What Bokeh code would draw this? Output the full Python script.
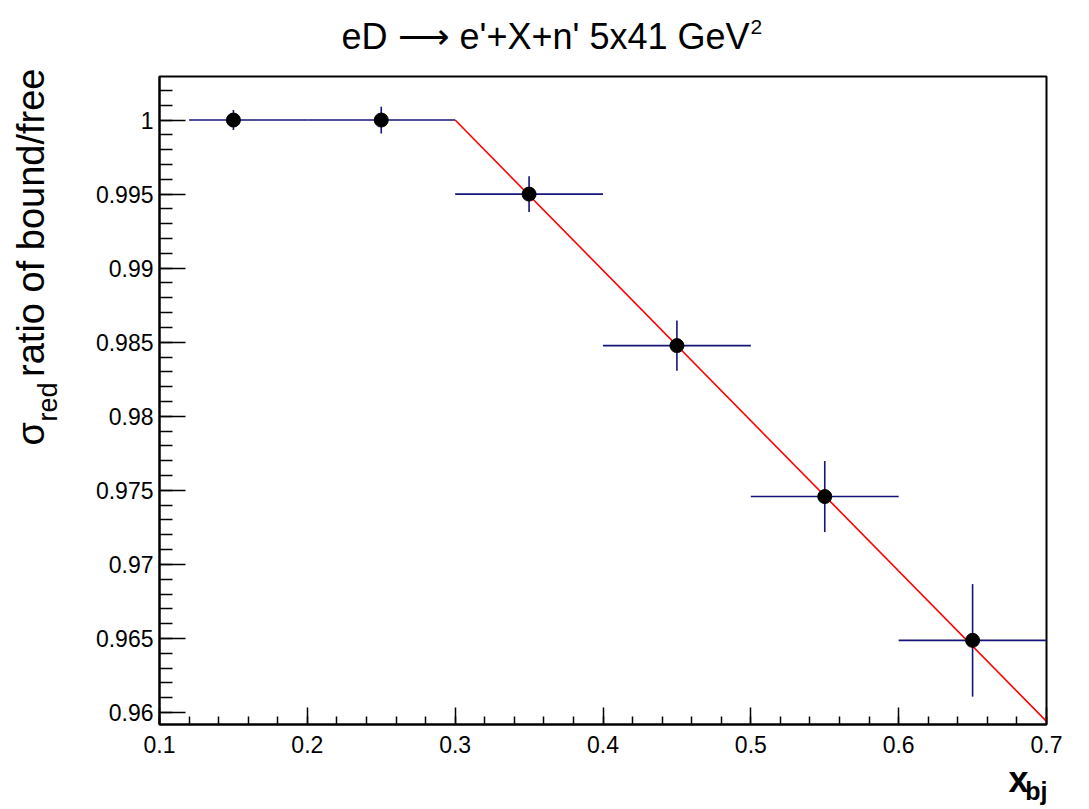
import numpy as np
from bokeh.plotting import figure
from bokeh.models import FixedTicker, Label, ColumnDataSource
from bokeh.embed import file_html
from bokeh.resources import INLINE

# ---- data ----
x_val = [0.15, 0.25, 0.35, 0.45, 0.55, 0.65]
x_low = [0.12, 0.20, 0.30, 0.40, 0.50, 0.60]
x_high = [0.20, 0.30, 0.40, 0.50, 0.60, 0.70]
y_val = [1.0000, 1.0000, 0.9950, 0.98477, 0.97458, 0.96487]
y_err = [0.00067, 0.0009, 0.0012, 0.0017, 0.0024, 0.0038]

fit_x = [0.30, 0.70]
fit_y = [1.0000, 0.9594]

x_ticks = [0.1, 0.2, 0.3, 0.4, 0.5, 0.6, 0.7]
x_tick_labels = ["0.1", "0.2", "0.3", "0.4", "0.5", "0.6", "0.7"]
y_ticks = [0.96, 0.965, 0.97, 0.975, 0.98, 0.985, 0.99, 0.995, 1.0]
y_tick_labels = ["0.96", "0.965", "0.97", "0.975", "0.98", "0.985", "0.99", "0.995", "1"]

XMIN, XMAX = 0.1, 0.7
YMIN, YMAX = 0.95919, 1.00294

# canvas and plot-box placement (pixels)
W, H = 1089, 809
L, R, T, B = 159, 43, 76, 85
FW, FH = W - L - R, H - T - B
KX = FW / (XMAX - XMIN)
KY = FH / (YMAX - YMIN)

FONT = "Liberation Sans"

p = figure(width=W, height=H,
           x_range=(XMIN - L / KX, XMAX + R / KX),
           y_range=(YMIN - B / KY, YMAX + T / KY),
           output_backend="svg", toolbar_location=None, title=None,
           min_border=0)
p.background_fill_color = "white"
p.border_fill_color = "white"
p.outline_line_color = None
p.xgrid.visible = False
p.ygrid.visible = False

# axes placed at the plot-box edges
p.xaxis.fixed_location = YMIN
p.yaxis.fixed_location = XMIN
p.xaxis.bounds = (XMIN, XMAX)
p.yaxis.bounds = (YMIN, YMAX)
p.xaxis.ticker = FixedTicker(ticks=x_ticks,
                             minor_ticks=[round(v, 3) for v in np.arange(0.1, 0.7001, 0.02)])
p.yaxis.ticker = FixedTicker(ticks=y_ticks,
                             minor_ticks=[round(v, 4) for v in np.arange(0.960, 1.0021, 0.001)])
p.xaxis.major_label_overrides = dict(zip(x_ticks, x_tick_labels))
p.yaxis.major_label_overrides = dict(zip(y_ticks, y_tick_labels))
for ax in (p.xaxis, p.yaxis):
    ax.axis_line_width = 2
    ax.axis_line_color = "black"
    ax.major_tick_out = 0
    ax.minor_tick_out = 0
    ax.major_tick_line_width = 1.5
    ax.minor_tick_line_width = 1.5
    ax.major_tick_line_color = "black"
    ax.minor_tick_line_color = "black"
    ax.major_label_text_font = FONT
    ax.major_label_text_font_size = "23px"
    ax.major_label_text_color = "black"
p.xaxis.major_tick_in = 17
p.xaxis.minor_tick_in = 8
p.yaxis.major_tick_in = 26
p.yaxis.minor_tick_in = 13
p.xaxis.major_label_standoff = 11
p.yaxis.major_label_standoff = 6

# plot box outline
p.quad(left=[XMIN], right=[XMAX], bottom=[YMIN], top=[YMAX],
       fill_color=None, line_color="black", line_width=2)

# data
src = ColumnDataSource(dict(x=x_val, xl=x_low, xh=x_high, y=y_val,
                            yl=[a - b for a, b in zip(y_val, y_err)],
                            yh=[a + b for a, b in zip(y_val, y_err)]))
EB = "#14147a"
p.segment(x0="xl", x1="xh", y0="y", y1="y", source=src, line_color=EB, line_width=1.6)
p.segment(x0="x", x1="x", y0="yl", y1="yh", source=src, line_color=EB, line_width=1.6)
p.line(fit_x, fit_y, line_color="#ff0000", line_width=1.6)
p.scatter(x="x", y="y", source=src, size=14, color="black")

# text positioned by pixel (baseline given in pixels; small correction for renderer offset)
def px2x(px):
    return XMIN + (px - L) / KX

def px2y(py):
    return YMAX - (py - T) / KY

def lab(text, px, py, size, align="left", rotated=False, style="normal"):
    corr = 0.42 * size
    if rotated:
        px = px - corr
        ang = np.pi / 2
    else:
        py = py - corr
        ang = 0.0
    p.add_layout(Label(x=px2x(px), y=px2y(py), text=text, text_font=FONT,
                       text_font_size=f"{size}px", text_align=align,
                       text_baseline="alphabetic", angle=ang,
                       text_color="black", text_font_style=style))

# title
lab("eD \u27f6 e'+X+n' 5x41 GeV", 749, 51, 36, align="right")
lab("2", 750, 35, 21, align="left")

# y title (rotated)
lab("\u03c3", 46, 445, 38, rotated=True)
lab("red", 59, 421, 27, rotated=True)
lab("ratio of bound/free", 46, 68, 38, align="right", rotated=True)

# x title
lab("x", 1028, 794, 36, align="right", style="bold")
lab("bj", 1047, 801, 25, align="right", style="bold")

open("out.html", "w").write(file_html(p, INLINE))
